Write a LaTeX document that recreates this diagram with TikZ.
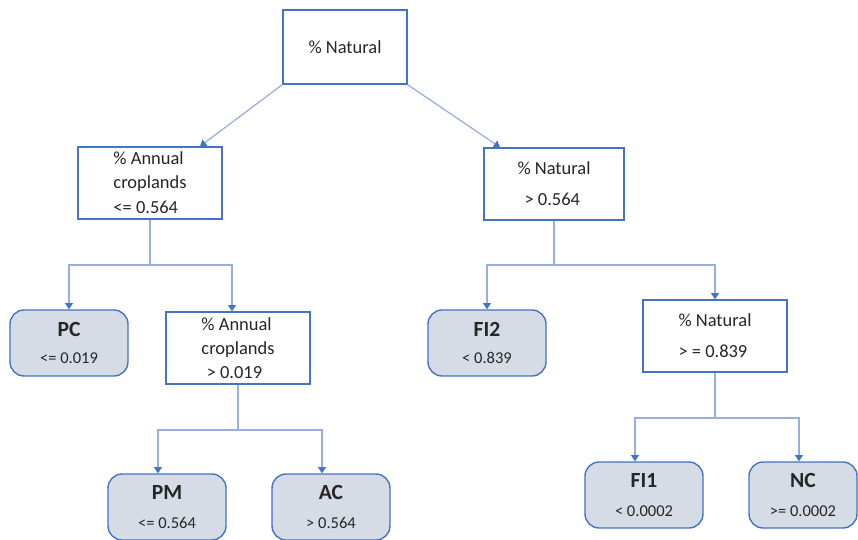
\documentclass[tikz,border=0pt]{standalone}
\usepackage{fontspec}
\setmainfont{Carlito}
\usetikzlibrary{arrows.meta}
\definecolor{boxblue}{RGB}{68,114,196}
\definecolor{linkblue}{RGB}{150,175,222}
\definecolor{leaffill}{RGB}{214,220,229}
\definecolor{inkgray}{RGB}{38,38,38}
\tikzset{
  split/.style={draw=boxblue, line width=0.8pt, fill=white, text=inkgray,
    minimum width=2.88cm, minimum height=1.44cm, inner sep=0pt, align=left,
    font=\fontsize{10.5}{13.5}\selectfont},
  leaf/.style={draw=boxblue, line width=0.8pt, fill=leaffill, text=inkgray,
    rounded corners=8pt, minimum width=2.36cm, minimum height=1.32cm,
    inner sep=0pt, align=center, font=\fontsize{9.4}{12}\selectfont},
  link/.style={draw=linkblue, line width=0.7pt},
  tip/.style={link, -{Triangle[width=4.5pt,length=3.5pt,color=boxblue]}}
}
\newcommand{\leafname}[1]{{\fontsize{12.3}{14}\selectfont\bfseries #1}}
\begin{document}
\begin{tikzpicture}[x=0.02cm,y=-0.02cm]
  \useasboundingbox (0,0) rectangle (858,540);
  % split nodes
  \node[split, minimum width=2.48cm, minimum height=1.48cm] (root) at (345,47) {\% Natural};
  \node[split] (anna) at (150,183) {\% Annual\\croplands\\[1pt]<= 0.564};
  \node[split, minimum width=2.8cm] (nata) at (554,184) {\% Natural\\[4pt]\hspace{4pt}> 0.564};
  \node[split] (annb) at (238,348) {\% Annual\\croplands\\\hspace{3pt}> 0.019};
  \node[split] (natb) at (715,336) {\% Natural\\[4pt]> = 0.839};
  % leaves
  \node[leaf] (pc) at (69,343) {\leafname{PC}\\[3pt]<= 0.019};
  \node[leaf] (fi2) at (487,343) {\leafname{FI2}\\[3pt]< 0.839};
  \node[leaf] (pm) at (167,507) {\leafname{PM}\\[5pt]<= 0.564};
  \node[leaf] (ac) at (331,507) {\leafname{AC}\\[5pt]> 0.564};
  \node[leaf] (fi1) at (644,495) {\leafname{FI1}\\[5pt]< 0.0002};
  \node[leaf, minimum width=2.16cm] (nc) at (803,495) {\leafname{NC}\\[5pt]>= 0.0002};
  % junctions
  \coordinate (ja) at (150,265);
  \coordinate (jb) at (238,430);
  \coordinate (jc) at (554,265);
  \coordinate (jd) at (715,418);
  % connectors
  \draw[tip] (root.south west) -- ([xshift=1cm]anna.north);
  \draw[tip] (root.south east) -- ([xshift=-1.08cm]nata.north);
  \draw[link] (anna.south) -- (ja);
  \draw[tip] (ja) -| (pc.north);
  \draw[tip] (ja) -| ([xshift=-0.12cm]annb.north);
  \draw[link] (annb.south) -- (jb);
  \draw[tip] (jb) -| ([xshift=-0.18cm]pm.north);
  \draw[tip] (jb) -| ([xshift=-0.18cm]ac.north);
  \draw[link] (nata.south) -- (jc);
  \draw[tip] (jc) -| (fi2.north);
  \draw[tip] (jc) -| (natb.north);
  \draw[link] (natb.south) -- (jd);
  \draw[tip] (jd) -| ([xshift=-0.18cm]fi1.north);
  \draw[tip] (jd) -| ([xshift=-0.08cm]nc.north);
\end{tikzpicture}
\end{document}
